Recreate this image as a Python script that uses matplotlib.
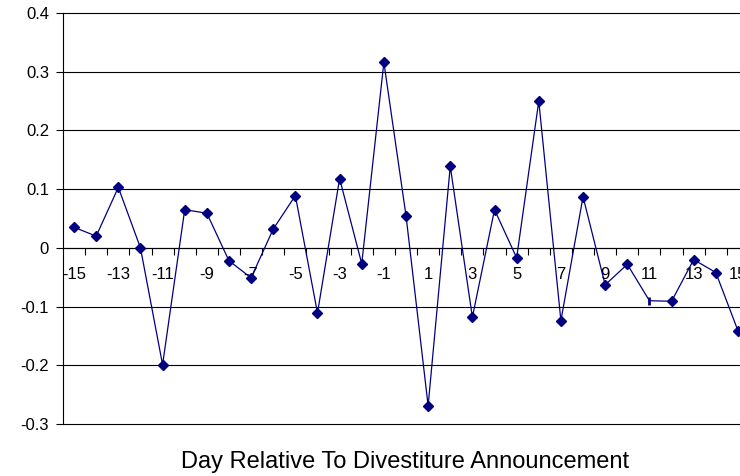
import matplotlib
matplotlib.use("Agg")
import matplotlib.pyplot as plt
import numpy as np

# Abnormal returns around the divestiture announcement
days = list(range(-15, 16))
returns = [0.035, 0.020, 0.103, 0.000, -0.199, 0.065, 0.059, -0.022, -0.051, 0.032,
           0.089, -0.111, 0.118, -0.027, 0.316, 0.055, -0.269, 0.139, -0.118, 0.065,
           -0.017, 0.250, -0.124, 0.087, -0.063, -0.028, -0.090, -0.091, -0.020, -0.042,
           -0.141]
y_ticks = [-0.3, -0.2, -0.1, 0.0, 0.1, 0.2, 0.3, 0.4]
y_tick_labels = ["-0.3", "-0.2", "-0.1", "0", "0.1", "0.2", "0.3", "0.4"]
x_label_days = [d for d in days if d % 2 != 0]
x_title = "Day Relative To Divestiture Announcement"

plt.rcParams["font.family"] = ["Liberation Sans", "DejaVu Sans"]

fig = plt.figure(figsize=(7.4, 4.76), dpi=100)
ax = fig.add_axes([63 / 740, 1 - 424 / 476, 686 / 740, 411 / 476])

navy = "#000080"
idx_bar = days.index(11)
diamond_idx = [i for i in range(len(days)) if i != idx_bar]
ax.plot(days, returns, color=navy, lw=0.9, marker="D", markersize=5,
        markevery=diamond_idx, markerfacecolor=navy, markeredgecolor=navy,
        clip_on=False, zorder=3)
ax.plot([days[idx_bar]], [returns[idx_bar]], linestyle="none", marker="|",
        markersize=6, markeredgewidth=2, color=navy, zorder=3)

ax.set_xlim(days[0] - 0.5, days[-1] + 0.5)
ax.set_ylim(y_ticks[0], y_ticks[-1])

# horizontal gridlines, including the top and bottom frame lines
for yv in y_ticks:
    ax.axhline(yv, color="black", lw=0.8, zorder=1, clip_on=False)

ax.set_yticks(y_ticks)
ax.set_yticklabels(y_tick_labels, fontsize=12)
ax.tick_params(axis="y", direction="out", length=5, width=0.8, pad=5)

# category axis drawn along y = 0
for side in ("top", "right"):
    ax.spines[side].set_visible(False)
ax.spines["bottom"].set_position(("data", 0))
ax.spines["bottom"].set_linewidth(0.8)
ax.spines["left"].set_linewidth(0.8)

boundaries = np.arange(days[0] + 0.5, days[-1] + 0.5, 1.0)
ax.set_xticks(boundaries)
ax.set_xticklabels([])
ax.tick_params(axis="x", which="major", direction="out", length=5, width=0.8)
ax.set_xticks(x_label_days, minor=True)
ax.set_xticklabels([str(d) for d in x_label_days], minor=True, fontsize=12)
ax.tick_params(axis="x", which="minor", length=0, pad=14)

fig.text(405 / 740, 1 - 468 / 476, x_title, ha="center", va="baseline",
         fontsize=17)

fig.savefig("out.png", dpi=100)
